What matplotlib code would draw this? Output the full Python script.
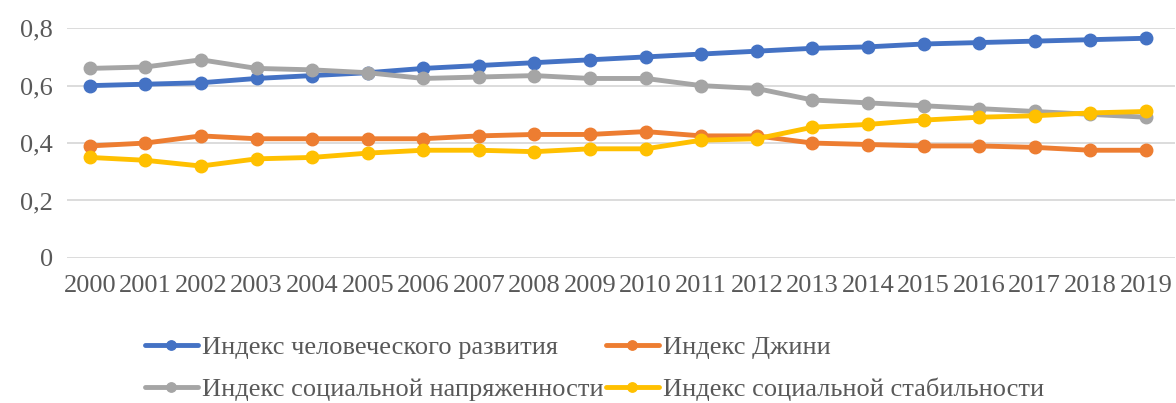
#!/usr/bin/env python3
"""
Social indices of Russia, 2000-2019
"""
import matplotlib
matplotlib.use('Agg')
import matplotlib.pyplot as plt
from matplotlib.ticker import FuncFormatter

years = [str(y) for y in range(2000, 2020)]

hdi = [0.60, 0.605, 0.61, 0.625, 0.635, 0.645, 0.66, 0.67, 0.68, 0.69,
       0.70, 0.71, 0.72, 0.73, 0.735, 0.745, 0.75, 0.755, 0.76, 0.765]
gini = [0.39, 0.40, 0.425, 0.415, 0.415, 0.415, 0.415, 0.425, 0.43, 0.43,
        0.44, 0.425, 0.425, 0.40, 0.395, 0.39, 0.39, 0.385, 0.375, 0.375]
tension = [0.66, 0.665, 0.69, 0.66, 0.655, 0.645, 0.625, 0.63, 0.635, 0.625,
           0.625, 0.60, 0.59, 0.55, 0.54, 0.53, 0.52, 0.51, 0.50, 0.49]
stability = [0.35, 0.34, 0.32, 0.345, 0.35, 0.365, 0.375, 0.375, 0.37, 0.38,
             0.38, 0.41, 0.415, 0.455, 0.465, 0.48, 0.49, 0.495, 0.505, 0.51]

series = [
  ('Индекс человеческого развития', hdi, '#4472C4'),
  ('Индекс Джини', gini, '#ED7D31'),
  ('Индекс социальной напряженности', tension, '#A5A5A5'),
  ('Индекс социальной стабильности', stability, '#FFC000'),
]

plt.rcParams['font.family'] = ['Liberation Serif', 'DejaVu Serif']

fig = plt.figure(figsize=(11.76, 4.03), dpi=100)
ax = fig.add_axes([0.057, 0.36, 0.942, 0.57])

x = list(range(len(years)))
for label, vals, color in series:
  ax.plot(x, vals, color=color, lw=3.5, marker='o', ms=9, label=label,
          solid_capstyle='round')

ax.set_ylim(0, 0.8)
ax.set_yticks([0, 0.2, 0.4, 0.6, 0.8])
ax.yaxis.set_major_formatter(FuncFormatter(
  lambda v, p: '0' if v == 0 else ('%.1f' % v).replace('.', ',')))
ax.set_xlim(-0.41, 19.52)
ax.set_xticks(x)
ax.set_xticklabels(years)
ax.grid(axis='y', color='#D9D9D9', lw=1.3)
ax.set_axisbelow(True)
for s in ax.spines.values():
  s.set_visible(False)
ax.tick_params(length=0, labelsize=19, colors='#595959')
ax.tick_params(axis='y', pad=10)
ax.tick_params(axis='x', pad=12)

# legend fills column-wise, so reorder to get row-wise layout
handles, labels = ax.get_legend_handles_labels()
order = [0, 2, 1, 3]
leg = fig.legend([handles[i] for i in order], [labels[i] for i in order],
                 ncol=2, loc='lower left',
                 bbox_to_anchor=(0.103, -0.055), frameon=False, fontsize=19,
                 handlelength=2.0, handletextpad=0.15, columnspacing=0.1,
                 labelspacing=0.7, markerscale=0.75)
for t in leg.get_texts():
  t.set_color('#595959')

plt.savefig('out.png', dpi=100)
